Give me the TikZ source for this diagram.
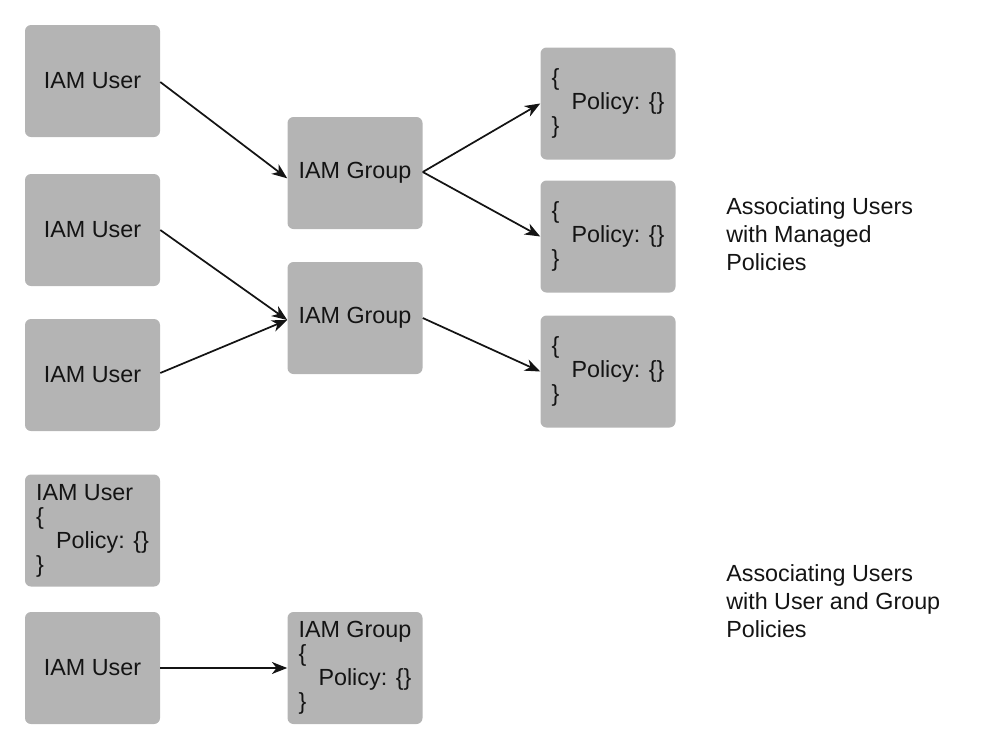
\documentclass[tikz,border=0pt]{standalone}
\usepackage{fontspec}
\setmainfont{Liberation Sans}
\usetikzlibrary{arrows.meta}
\definecolor{boxgray}{RGB}{180,180,180}
\definecolor{inkcol}{RGB}{20,20,20}
\tikzset{
  box/.style={fill=boxgray, rounded corners=4.5pt, minimum width=101.25pt, minimum height=84pt, inner sep=0pt, align=left, text=inkcol, font=\fontsize{17.5}{18}\selectfont},
  conn/.style={line width=1.3pt, draw=inkcol, -{Stealth[length=11.5pt,width=9pt,inset=3.5pt]}},
  caption/.style={anchor=north west, inner sep=0pt, align=left, text=inkcol, font=\fontsize{17.5}{21}\selectfont}
}
\begin{document}
\begin{tikzpicture}[x=0.75pt,y=-0.75pt]
\useasboundingbox (0,0) rectangle (1000,740);
% users
\node[box] (u1) at (92.5,81) {IAM User};
\node[box] (u2) at (92.5,230) {IAM User};
\node[box] (u3) at (92.5,375) {IAM User};
% groups
\node[box] (g1) at (355,173) {IAM Group};
\node[box] (g2) at (355,318) {IAM Group};
% policies
\node[box] (p1) at (608,103.5) {\{\\\hspace{15pt}Policy: \{\}\\\}};
\node[box] (p2) at (608,236.5) {\{\\\hspace{15pt}Policy: \{\}\\\}};
\node[box] (p3) at (608,371.5) {\{\\\hspace{15pt}Policy: \{\}\\\}};
% bottom
\node[box] (u4) at (92.5,530.5) {IAM User\\\{\\\hspace{15pt}Policy: \{\}\\\}};
\node[box] (u5) at (92.5,668) {IAM User};
\node[box] (g3) at (355,668) {IAM Group\\\{\\\hspace{15pt}Policy: \{\}\\\}};
% captions
\node[caption] (c1) at (726,197) {Associating Users\\with Managed\\Policies};
\node[caption] (c2) at (726,564) {Associating Users\\with User and Group\\Policies};
% connectors
\draw[conn] ([yshift=-0.75pt]u1.east) -- ([yshift=-4pt]g1.west);
\draw[conn] (u2.east) -- ([yshift=-1.5pt]g2.west);
\draw[conn] ([yshift=1.5pt]u3.east) -- ([yshift=-1.5pt]g2.west);
\draw[conn] ([yshift=0.75pt]g1.east) -- (p1.west);
\draw[conn] ([yshift=0.75pt]g1.east) -- (p2.west);
\draw[conn] (g2.east) -- (p3.west);
\draw[conn] (u5.east) -- (g3.west);
\end{tikzpicture}
\end{document}
